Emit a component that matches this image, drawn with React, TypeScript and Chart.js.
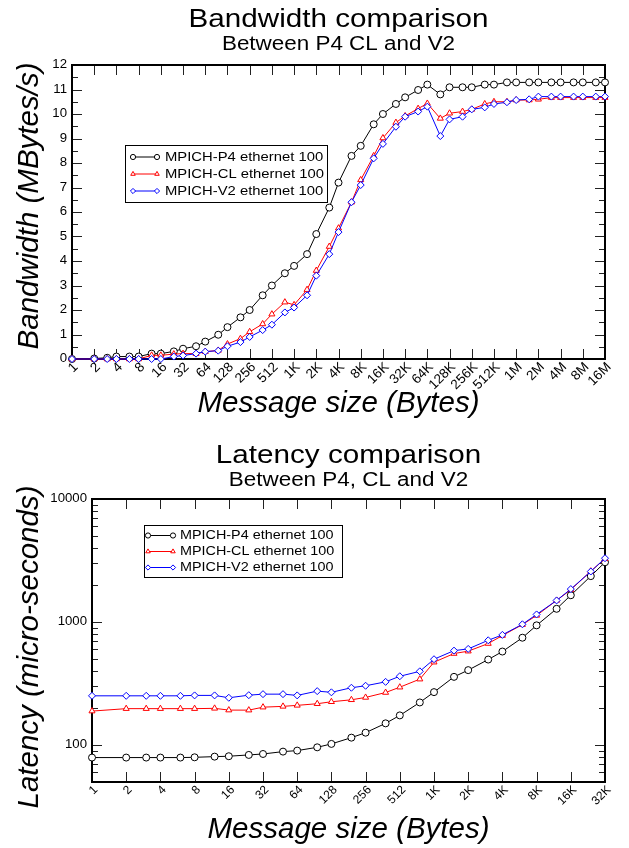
import React, { useEffect, useRef } from 'react';
import { Chart, registerables } from 'chart.js';
import { drawPoint } from 'chart.js/helpers';

Chart.register(...registerables);

const FONT = '"Liberation Sans", Arial, Helvetica, sans-serif';

// ---------- shared series info ----------
const seriesNames = ['MPICH-P4 ethernet 100', 'MPICH-CL ethernet 100', 'MPICH-V2 ethernet 100'];
const seriesColors = ['#000000', '#ff0000', '#0000ff'];
const seriesMarkers = ['circle', 'triangle', 'rectRot'];

// ---------- Bandwidth chart data ----------
const bwSizes = [
  1, 2, 3, 4, 6, 8, 12, 16, 24, 32, 48, 64, 96, 128, 192, 256, 384, 512, 768,
  1024, 1536, 2048, 3072, 4096, 6144, 8192, 12288, 16384, 24576, 32768, 49152, 65536,
  98304, 131072, 196608, 262144, 393216, 524288, 786432, 1048576, 1572864, 2097152,
  3145728, 4194304, 6291456, 8388608, 12582912, 16777216,
];
const bwP4 = [
  0, 0.02, 0.05, 0.1, 0.1, 0.1, 0.22, 0.22, 0.31, 0.42, 0.52, 0.71, 0.99, 1.3, 1.7, 2.0, 2.6, 3.0, 3.5,
  3.8, 4.28, 5.1, 6.18, 7.2, 8.29, 8.7, 9.58, 10.0, 10.41, 10.68, 10.98, 11.2,
  10.8, 11.09, 11.09, 11.09, 11.2, 11.2, 11.29, 11.29, 11.29, 11.29,
  11.29, 11.29, 11.29, 11.29, 11.29, 11.29,
];
const bwCL = [
  0, 0, 0, 0, 0, 0, 0.15, 0.15, 0.2, 0.22, 0.22, 0.3, 0.35, 0.61, 0.83, 1.11, 1.43, 1.83, 2.32,
  2.21, 2.83, 3.61, 4.59, 5.34, 6.4, 7.31, 8.29, 9.02, 9.65, 9.92, 10.22, 10.43,
  9.82, 10.03, 10.1, 10.19, 10.41, 10.5, 10.5, 10.57, 10.57, 10.6,
  10.67, 10.67, 10.67, 10.67, 10.67, 10.67,
];
const bwV2 = [
  0, 0, 0, 0, 0, 0, 0, 0, 0.1, 0.14, 0.22, 0.3, 0.34, 0.52, 0.69, 0.9, 1.18, 1.4, 1.9,
  2.1, 2.6, 3.4, 4.28, 5.18, 6.4, 7.1, 8.19, 8.78, 9.48, 9.89, 10.1, 10.3,
  9.1, 9.78, 9.89, 10.19, 10.27, 10.41, 10.48, 10.57, 10.6, 10.71,
  10.71, 10.71, 10.71, 10.71, 10.71, 10.71,
];
const bwXTicks = [
  1, 2, 4, 8, 16, 32, 64, 128, 256, 512, 1024, 2048, 4096, 8192, 16384, 32768, 65536,
  131072, 262144, 524288, 1048576, 2097152, 4194304, 8388608, 16777216,
];
const bwXLabels = [
  '1', '2', '4', '8', '16', '32', '64', '128', '256', '512', '1K', '2K', '4K', '8K', '16K', '32K', '64K',
  '128K', '256K', '512K', '1M', '2M', '4M', '8M', '16M',
];
const bwYTicks = [0, 1, 2, 3, 4, 5, 6, 7, 8, 9, 10, 11, 12];
const bwYLabels = ['0', '1', '2', '3', '4', '5', '6', '7', '8', '9', '10', '11', '12'];

// ---------- Latency chart data ----------
const latSizes = [
  1, 2, 3, 4, 6, 8, 12, 16, 24, 32, 48, 64, 96, 128, 192, 256, 384, 512, 768,
  1024, 1536, 2048, 3072, 4096, 6144, 8192, 12288, 16384, 24576, 32768,
];
const latP4 = [
  79, 79, 79, 79, 79, 79.4, 80.4, 81, 83, 84.5, 88.3, 90, 95.7, 102, 114.7, 125.9, 149.9, 174, 221.7,
  269, 358, 406, 495, 575, 745, 939, 1280, 1650, 2360, 3060,
];
const latCL = [
  188.6, 197.4, 197.4, 197.4, 197.4, 197.4, 198.6, 192.2, 192, 203, 206, 210, 216.5, 224.6, 233, 243.5, 267, 295, 343,
  471, 554, 579, 668, 776, 952, 1131, 1497, 1829, 2590, 3265,
];
const latV2 = [
  251, 251, 251, 251, 251, 253, 253, 242, 254, 259, 259, 253, 274, 268, 292, 303, 326, 362, 397,
  498, 585, 604, 710, 786, 958, 1152, 1497, 1852, 2574, 3300,
];
const latXTicks = [1, 2, 4, 8, 16, 32, 64, 128, 256, 512, 1024, 2048, 4096, 8192, 16384, 32768];
const latXLabels = ['1', '2', '4', '8', '16', '32', '64', '128', '256', '512', '1K', '2K', '4K', '8K', '16K', '32K'];
const latYTicks = [100, 1000, 10000];
const latYLabels = ['100', '1000', '10000'];

// ---------- drawing helpers ----------
type TextOpts = {
  size: number;
  italic?: boolean;
  align?: CanvasTextAlign;
  baseline?: CanvasTextBaseline;
  rot?: number;
  sx?: number;
};

function drawText(ctx: CanvasRenderingContext2D, text: string, x: number, y: number, o: TextOpts) {
  ctx.save();
  ctx.translate(x, y);
  if (o.rot) ctx.rotate(o.rot);
  ctx.scale(o.sx ?? 1, 1);
  ctx.font = `${o.italic ? 'italic ' : ''}${o.size}px ${FONT}`;
  ctx.textAlign = o.align ?? 'center';
  ctx.textBaseline = o.baseline ?? 'alphabetic';
  ctx.fillStyle = '#000';
  ctx.fillText(text, 0, 0);
  ctx.restore();
}

type Spec = {
  title: string;
  subtitle: string;
  titleY: number;
  subY: number;
  xTitle: string;
  xTitleY: number;
  yTitle: string;
  yTitleX: number;
  yTitleY: number;
  xTicks: number[];
  xLabels: string[];
  xLabelSize: number;
  yTicks: number[];
  yLabels: string[];
  yMinor: number[];
  legend: {
    x: number; y: number; w: number; h: number;
    row0: number; rowH: number; lx0: number; lx1: number; tx: number; size: number; sx: number;
  };
};

function overlayPlugin(spec: Spec) {
  return {
    id: 'overlay',
    beforeDatasetsDraw(chart: any) {
      const ctx: CanvasRenderingContext2D = chart.ctx;
      const { left, right, top, bottom } = chart.chartArea;
      const xs = chart.scales.x;
      const ys = chart.scales.y;
      ctx.save();
      ctx.strokeStyle = '#222';
      ctx.lineWidth = 1;
      ctx.beginPath();
      spec.xTicks.forEach((v) => {
        const px = Math.round(xs.getPixelForValue(v)) + 0.5;
        ctx.moveTo(px, bottom);
        ctx.lineTo(px, bottom - 10);
        ctx.moveTo(px, top);
        ctx.lineTo(px, top + 10);
      });
      spec.yTicks.forEach((v) => {
        const py = Math.round(ys.getPixelForValue(v)) + 0.5;
        ctx.moveTo(left, py);
        ctx.lineTo(left + 10, py);
        ctx.moveTo(right, py);
        ctx.lineTo(right - 10, py);
      });
      spec.yMinor.forEach((v) => {
        const py = Math.round(ys.getPixelForValue(v)) + 0.5;
        ctx.moveTo(left, py);
        ctx.lineTo(left + 6, py);
        ctx.moveTo(right, py);
        ctx.lineTo(right - 6, py);
      });
      ctx.stroke();
      ctx.strokeStyle = '#000';
      ctx.lineWidth = 2;
      ctx.strokeRect(left, top, right - left, bottom - top);
      ctx.restore();
    },
    afterDraw(chart: any) {
      const ctx: CanvasRenderingContext2D = chart.ctx;
      const { left, right, bottom } = chart.chartArea;
      const xs = chart.scales.x;
      const ys = chart.scales.y;
      const cx = (left + right) / 2;

      // titles
      drawText(ctx, spec.title, cx, spec.titleY, { size: 26, sx: 1.14 });
      drawText(ctx, spec.subtitle, cx, spec.subY, { size: 19.5, sx: 1.15 });

      // axis titles
      drawText(ctx, spec.xTitle, cx, spec.xTitleY, { size: 29.5, italic: true });
      drawText(ctx, spec.yTitle, spec.yTitleX, spec.yTitleY, { size: 29.5, italic: true, rot: -Math.PI / 2 });

      // tick labels
      spec.xTicks.forEach((v, i) => {
        const px = xs.getPixelForValue(v);
        drawText(ctx, spec.xLabels[i], px + 4, bottom + 6, {
          size: spec.xLabelSize, align: 'right', baseline: 'middle', rot: -Math.PI / 4,
        });
      });
      spec.yTicks.forEach((v, i) => {
        const py = ys.getPixelForValue(v);
        drawText(ctx, spec.yLabels[i], left - 5, py, { size: 12, align: 'right', baseline: 'middle', sx: 1.1 });
      });

      // legend
      const L = spec.legend;
      ctx.save();
      ctx.fillStyle = '#fff';
      ctx.fillRect(L.x, L.y, L.w, L.h);
      ctx.strokeStyle = '#000';
      ctx.lineWidth = 1;
      ctx.strokeRect(L.x + 0.5, L.y + 0.5, L.w, L.h);
      seriesNames.forEach((name, i) => {
        const y = L.row0 + i * L.rowH;
        ctx.strokeStyle = seriesColors[i];
        ctx.lineWidth = 1;
        ctx.beginPath();
        ctx.moveTo(L.lx0, y);
        ctx.lineTo(L.lx1, y);
        ctx.stroke();
        ctx.fillStyle = '#fff';
        const po = { pointStyle: seriesMarkers[i], radius: 2.6, borderWidth: 1, rotation: 0 };
        drawPoint(ctx, po as any, L.lx0, y);
        drawPoint(ctx, po as any, L.lx1, y);
        drawText(ctx, name, L.tx, y, { size: L.size, align: 'left', baseline: 'middle', sx: L.sx });
      });
      ctx.restore();
    },
  };
}

function makeDatasets(sizes: number[], series: number[][], radius: number) {
  return series.map((vals, i) => ({
    label: seriesNames[i],
    data: sizes.map((s, j) => ({ x: s, y: vals[j] })),
    borderColor: seriesColors[i],
    backgroundColor: seriesColors[i],
    pointBackgroundColor: '#ffffff',
    pointBorderColor: seriesColors[i],
    pointStyle: seriesMarkers[i],
    pointRadius: radius,
    pointBorderWidth: 1,
    borderWidth: 1,
    tension: 0,
    clip: false,
    order: 2 - i,
  }));
}

function bandwidthConfig(): any {
  const minor = bwYTicks.slice(0, -1).map((v) => v + 0.5);
  const spec: Spec = {
    title: 'Bandwidth comparison',
    subtitle: 'Between P4 CL and V2',
    titleY: 27,
    subY: 50,
    xTitle: 'Message size (Bytes)',
    xTitleY: 412,
    yTitle: 'Bandwidth (MBytes/s)',
    yTitleX: 38,
    yTitleY: 206,
    xTicks: bwXTicks,
    xLabels: bwXLabels,
    xLabelSize: 13.5,
    yTicks: bwYTicks,
    yLabels: bwYLabels,
    yMinor: minor,
    legend: { x: 125, y: 145, w: 202, h: 57, row0: 157, rowH: 17, lx0: 133, lx1: 157, tx: 165, size: 13, sx: 1.14 },
  };
  return {
    type: 'line',
    data: { datasets: makeDatasets(bwSizes, [bwP4, bwCL, bwV2], 3.5) },
    options: {
      animation: false,
      responsive: false,
      devicePixelRatio: 1,
      events: [],
      layout: { padding: { left: 72, right: 24, top: 65, bottom: 65 } },
      plugins: { legend: { display: false }, tooltip: { enabled: false }, title: { display: false } },
      scales: {
        x: { type: 'logarithmic', min: bwXTicks[0], max: bwXTicks[bwXTicks.length - 1], display: false },
        y: { type: 'linear', min: bwYTicks[0], max: bwYTicks[bwYTicks.length - 1], display: false },
      },
    },
    plugins: [overlayPlugin(spec)],
  };
}

function latencyConfig(): any {
  const minor: number[] = [];
  [10, 100, 1000].forEach((d) => {
    for (let k = 2; k <= 9; k++) {
      const v = k * d;
      if (v >= 50 && v < 10000) minor.push(v);
    }
  });
  const spec: Spec = {
    title: 'Latency comparison',
    subtitle: 'Between P4, CL and V2',
    titleY: 39,
    subY: 62,
    xTitle: 'Message size (Bytes)',
    xTitleY: 414,
    yTitle: 'Latency (micro-seconds)',
    yTitleX: 38,
    yTitleY: 223,
    xTicks: latXTicks,
    xLabels: latXLabels,
    xLabelSize: 12,
    yTicks: latYTicks,
    yLabels: latYLabels,
    yMinor: minor,
    legend: { x: 144, y: 101, w: 198, h: 52, row0: 111.5, rowH: 16, lx0: 148, lx1: 173, tx: 180, size: 12.5, sx: 1.15 },
  };
  return {
    type: 'line',
    data: { datasets: makeDatasets(latSizes, [latP4, latCL, latV2], 3.5) },
    options: {
      animation: false,
      responsive: false,
      devicePixelRatio: 1,
      events: [],
      layout: { padding: { left: 92, right: 24, top: 75, bottom: 66 } },
      plugins: { legend: { display: false }, tooltip: { enabled: false }, title: { display: false } },
      scales: {
        x: { type: 'logarithmic', min: latXTicks[0], max: latXTicks[latXTicks.length - 1], display: false },
        y: { type: 'logarithmic', min: 50, max: 10000, display: false },
      },
    },
    plugins: [overlayPlugin(spec)],
  };
}

function ChartCanvas({ makeConfig, top }: { makeConfig: () => any; top: number }) {
  const ref = useRef<HTMLCanvasElement | null>(null);
  useEffect(() => {
    if (!ref.current) return;
    const chart = new Chart(ref.current, makeConfig());
    return () => chart.destroy();
  }, [makeConfig]);
  return (
    <canvas
      ref={ref}
      width={629}
      height={424}
      style={{ position: 'absolute', left: 0, top, width: 629, height: 424 }}
    />
  );
}

export default function App() {
  return (
    <div style={{ position: 'absolute', left: 0, top: 0, width: 629, height: 848, background: '#fff' }}>
      <ChartCanvas makeConfig={bandwidthConfig} top={0} />
      <ChartCanvas makeConfig={latencyConfig} top={424} />
    </div>
  );
}
